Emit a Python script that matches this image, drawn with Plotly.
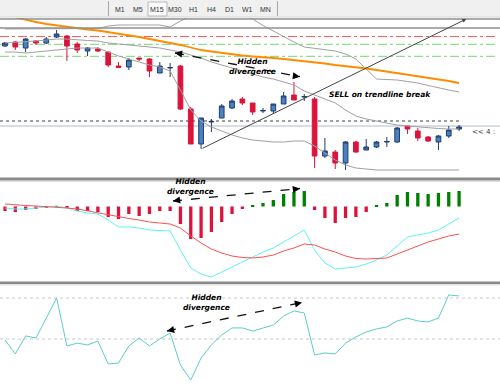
import plotly.graph_objects as go

W, H = 500, 384

# ---------------- data ----------------
bars = list(range(45))

open_ = [1.1132, 1.1136, 1.1130, 1.1137, 1.1135, 1.1141, 1.1142, 1.1134, 1.1127, 1.1129,
         1.1126, 1.1112, 1.1111, 1.1120, 1.1119, 1.1105, 1.1110, 1.1112, 1.1069, 1.1034,
         1.1056, 1.1060, 1.1070, 1.1079, 1.1075, 1.1067, 1.1067, 1.1074, 1.1083, 1.1081,
         1.1079, 1.1022, 1.1026, 1.1015, 1.1036, 1.1028, 1.1031, 1.1036, 1.1036, 1.1052,
         1.1047, 1.1041, 1.1036, 1.1042, 1.1049]
high = [1.1136, 1.1137, 1.1140, 1.1138, 1.1141, 1.1148, 1.1143, 1.1136, 1.1131, 1.1131,
        1.1126, 1.1116, 1.1120, 1.1120, 1.1120, 1.1116, 1.1115, 1.1113, 1.1071, 1.1060,
        1.1059, 1.1074, 1.1079, 1.1081, 1.1075, 1.1070, 1.1074, 1.1086, 1.1096, 1.1084,
        1.1081, 1.1040, 1.1028, 1.1037, 1.1037, 1.1039, 1.1037, 1.1041, 1.1051, 1.1052,
        1.1050, 1.1042, 1.1043, 1.1052, 1.1053]
low = [1.1131, 1.1128, 1.1126, 1.1133, 1.1134, 1.1140, 1.1117, 1.1125, 1.1122, 1.1126,
       1.1111, 1.1110, 1.1108, 1.1117, 1.1101, 1.1105, 1.1101, 1.1068, 1.1034, 1.1029,
       1.1046, 1.1060, 1.1069, 1.1073, 1.1063, 1.1065, 1.1064, 1.1074, 1.1078, 1.1077,
       1.1010, 1.1020, 1.1009, 1.1008, 1.1025, 1.1028, 1.1030, 1.1031, 1.1035, 1.1044,
       1.1037, 1.1036, 1.1028, 1.1040, 1.1047]
close = [1.1135, 1.1131, 1.1139, 1.1135, 1.1139, 1.1144, 1.1132, 1.1128, 1.1130, 1.1127,
         1.1113, 1.11105, 1.1118, 1.1119, 1.1107, 1.1112, 1.11105, 1.1069, 1.1034, 1.1060,
         1.10565, 1.1072, 1.1077, 1.1075, 1.1066, 1.10675, 1.1074, 1.1082, 1.1078, 1.10815,
         1.1022, 1.1027, 1.1015, 1.1036, 1.1026, 1.1031, 1.1036, 1.10365, 1.1050, 1.1049,
         1.1040, 1.1037, 1.1042, 1.1048, 1.1051]

ma_slow = [1.1163, 1.11605, 1.1158, 1.1156, 1.1154, 1.11525, 1.1151, 1.11495, 1.11485, 1.11475,
           1.1146, 1.11445, 1.1143, 1.1141, 1.1139, 1.1137, 1.11355, 1.1133, 1.11305, 1.1128,
           1.11265, 1.1125, 1.11235, 1.11225, 1.11215, 1.1121, 1.1120, 1.1119, 1.1118, 1.1117,
           1.1116, 1.11145, 1.1113, 1.1112, 1.1111, 1.11095, 1.1108, 1.11065, 1.1105, 1.11035,
           1.1102, 1.11005, 1.1099, 1.1097, 1.1095]

bb_upper = [1.1149, 1.1149, 1.1149, 1.1149, 1.1149, 1.1149, 1.1149, 1.1149, 1.1149, 1.11495,
            1.1152, 1.1153, 1.1153, 1.1153, 1.1153, 1.1153, 1.1151, 1.1157, 1.1162, 1.1166,
            1.1168, 1.1168, 1.1167, 1.1164, 1.1159, 1.11525, 1.1147, 1.1141, 1.1136, 1.1131,
            1.11295, 1.11285, 1.1127, 1.1124, 1.1119, 1.1109, 1.1099, 1.10985, 1.1098, 1.10965,
            1.1095, 1.10925, 1.1090, 1.1088, 1.1086]
bb_mid = [1.1135, 1.11355, 1.1136, 1.1137, 1.1138, 1.1139, 1.1139, 1.1138, 1.11375, 1.1137,
          1.1135, 1.1134, 1.1133, 1.1132, 1.1131, 1.1130, 1.1128, 1.1126, 1.1123, 1.1120,
          1.1116, 1.1113, 1.1110, 1.1107, 1.1104, 1.1101, 1.1099, 1.1096, 1.1093, 1.1087,
          1.1083, 1.1079, 1.1075, 1.1068, 1.1062, 1.1059, 1.1057, 1.1055, 1.1053, 1.1052,
          1.1051, 1.1050, 1.10495, 1.1049, 1.1049]
bb_lower = [1.1126, 1.1126, 1.1125, 1.1126, 1.1127, 1.1128, 1.1129, 1.1130, 1.1130, 1.1130,
            1.1126, 1.1122, 1.1119, 1.1116, 1.1113, 1.1111, 1.1107, 1.1088, 1.1068, 1.1057,
            1.1051, 1.1047, 1.1043, 1.1040, 1.1038, 1.1037, 1.1036, 1.1036, 1.1037, 1.1037,
            1.1032, 1.1025, 1.1018, 1.1013, 1.1010, 1.1009, 1.1008, 1.1008, 1.1008, 1.1008,
            1.1008, 1.1008, 1.1008, 1.1008, 1.1008]

macd_hist = [-0.00045, -0.00055, -0.00035, -0.00025, -0.00015, 0.00005, -0.00015, -0.00045, -0.00045, -0.00055,
             -0.00105, -0.00125, -0.00075, -0.00095, -0.00075, -0.00045, -0.00045, -0.00175, -0.00325, -0.00315,
             -0.00255, -0.00155, -0.00075, -0.00025, 0.00007, 0.00035, 0.00065, 0.00125, 0.00145, 0.00155,
             -0.00035, -0.00115, -0.00165, -0.00115, -0.00105, -0.00055, 0.00007, 0.00035, 0.00115, 0.00145,
             0.00135, 0.00125, 0.00135, 0.00145, 0.00155]
macd_main = [-0.00015, -0.00025, -0.00025, -0.00015, -0.00005, 0.00005, -0.00015, -0.00045, -0.00065, -0.00075,
             -0.00135, -0.00205, -0.00205, -0.00215, -0.00235, -0.0024, -0.00245, -0.00435, -0.00615, -0.00675,
             -0.00705, -0.00655, -0.00605, -0.00555, -0.00505, -0.00455, -0.00415, -0.00355, -0.00295, -0.00235,
             -0.00435, -0.00565, -0.00625, -0.00615, -0.00605, -0.00575, -0.00535, -0.00485, -0.00395, -0.00305,
             -0.00285, -0.00265, -0.00235, -0.00175, -0.00115]
macd_signal = [0.00025, 0.00015, 0.0001, 0.00005, 0.0, -0.00005, -0.00015, -0.00025, -0.00045, -0.00065,
               -0.00085, -0.00105, -0.0012, -0.00135, -0.00155, -0.00165, -0.00175, -0.00215, -0.00295, -0.00365,
               -0.00425, -0.00465, -0.00495, -0.0051, -0.00515, -0.00505, -0.00485, -0.00445, -0.00415, -0.00375,
               -0.00385, -0.00425, -0.00455, -0.00495, -0.0052, -0.00525, -0.0052, -0.00515, -0.00475, -0.00435,
               -0.00395, -0.00355, -0.00325, -0.00295, -0.00275]

rsi = [49.5, 42.7, 51.5, 50.5, 60.2, 70.0, 46.6, 48.0, 47.1, 49.0,
       37.8, 38.3, 46.6, 50.5, 46.6, 50.0, 52.9, 37.3, 30.0, 40.7,
       47.1, 52.0, 55.4, 55.4, 53.9, 55.4, 56.8, 61.2, 63.7, 62.7,
       42.2, 43.2, 42.7, 48.0, 51.0, 53.4, 54.9, 55.9, 58.8, 60.2,
       58.8, 58.3, 60.2, 71.5, 71.0]

level_red = [1.11415]
level_green = [1.11337, 1.11217]
level_dotted = 1.1057
level_solid = 1.1052
rsi_levels = [70, 50]

timeframes = ["M1", "M5", "M15", "M30", "H1", "H4", "D1", "W1", "MN"]

# annotation anchors (bar index, value)
trend_start = (19.0, 1.1029)
trend_end = (44.7, 1.1159)
div_main = [(16.47, 1.1125), (28.58, 1.11013)]
div_macd = [(16.28, 0.00055), (28.58, 0.0018)]
div_rsi = [(15.70, 53.9), (28.78, 67.8)]

# ---------------- figure ----------------
def py(y):
    return 1 - y / H

XR = [-0.4845, 47.965]
fig = go.Figure()

fig.add_trace(go.Candlestick(
    x=bars, open=open_, high=high, low=low, close=close,
    increasing=dict(line=dict(color="#1d3d70", width=1), fillcolor="#4a82bf"),
    decreasing=dict(line=dict(color="#dc143c", width=1), fillcolor="#dc143c"),
    whiskerwidth=0, xaxis="x", yaxis="y", hoverinfo="skip"))

for arr, col, w in [(bb_upper, "#a0a0a0", 1), (bb_mid, "#a0a0a0", 1),
                    (bb_lower, "#a0a0a0", 1), (ma_slow, "#ff8c00", 1.8)]:
    fig.add_trace(go.Scatter(x=bars, y=arr, mode="lines", line=dict(color=col, width=w),
                             xaxis="x", yaxis="y", hoverinfo="skip"))

# main arrow dashed line
fig.add_trace(go.Scatter(x=[p[0] for p in div_main], y=[p[1] for p in div_main], mode="lines",
                         line=dict(color="#111", width=1.3, dash="dash"), xaxis="x", yaxis="y"))

# MACD
fig.add_trace(go.Bar(x=bars, y=macd_hist, width=0.32,
                     marker=dict(color=["#008000" if v > 0 else "#dc143c" for v in macd_hist], line=dict(width=0)),
                     xaxis="x", yaxis="y2", hoverinfo="skip"))
fig.add_trace(go.Scatter(x=bars, y=macd_main, mode="lines", line=dict(color="#5cf3f8", width=1),
                         xaxis="x", yaxis="y2"))
fig.add_trace(go.Scatter(x=bars, y=macd_signal, mode="lines", line=dict(color="#ff5050", width=1),
                         xaxis="x", yaxis="y2"))
fig.add_trace(go.Scatter(x=[p[0] for p in div_macd], y=[p[1] for p in div_macd], mode="lines",
                         line=dict(color="#111", width=1.3, dash="dash"), xaxis="x", yaxis="y2"))

# RSI
fig.add_trace(go.Scatter(x=bars, y=rsi, mode="lines", line=dict(color="#5ccdc8", width=1),
                         xaxis="x", yaxis="y3"))
fig.add_trace(go.Scatter(x=[p[0] for p in div_rsi], y=[p[1] for p in div_rsi], mode="lines",
                         line=dict(color="#111", width=1.3, dash="dash"), xaxis="x", yaxis="y3"))

shapes = []
# toolbar
shapes.append(dict(type="rect", xref="paper", yref="paper", x0=0, x1=1, y0=py(17), y1=1,
                   fillcolor="#f0f0f0", line=dict(width=0), layer="above"))
shapes.append(dict(type="line", xref="paper", yref="paper", x0=0, x1=1, y0=py(17), y1=py(17),
                   line=dict(color="#d6d6d6", width=1), layer="above"))
for xs in [108.5, 277.5]:
    shapes.append(dict(type="line", xref="paper", yref="paper", x0=xs / W, x1=xs / W, y0=py(1), y1=py(16),
                       line=dict(color="#a8a8a8", width=1), layer="above"))
shapes.append(dict(type="rect", xref="paper", yref="paper", x0=148 / W, x1=167 / W, y0=py(16), y1=py(2),
                   fillcolor="#fafafa", line=dict(color="#b8b8b8", width=1), layer="above"))
# top strip lines
for yy in [19, 28]:
    shapes.append(dict(type="line", xref="paper", yref="paper", x0=0, x1=1, y0=py(yy), y1=py(yy),
                       line=dict(color="#8f8f8f", width=1.5)))
# price levels
for lv in level_red:
    shapes.append(dict(type="line", xref="paper", yref="y", x0=0, x1=497 / W, y0=lv, y1=lv,
                       line=dict(color="#ff5c5c", width=1, dash="dashdot"), layer="below"))
for lv in level_green:
    shapes.append(dict(type="line", xref="paper", yref="y", x0=0, x1=497 / W, y0=lv, y1=lv,
                       line=dict(color="#74d874", width=1, dash="dashdot"), layer="below"))
shapes.append(dict(type="line", xref="x", yref="y", x0=XR[0], x1=44.3, y0=level_dotted, y1=level_dotted,
                   line=dict(color="#808080", width=1.5, dash="dot"), layer="below"))
shapes.append(dict(type="line", xref="paper", yref="y", x0=0, x1=1, y0=level_solid, y1=level_solid,
                   line=dict(color="#b4bccb", width=1.2), layer="below"))
# rsi levels
for lv in rsi_levels:
    shapes.append(dict(type="line", xref="paper", yref="y3", x0=0, x1=1, y0=lv, y1=lv,
                       line=dict(color="#c8c8c8", width=1, dash="dot"), layer="below"))
# panel separators
for y0, y1 in [(177.5, 180.5), (281.5, 284)]:
    shapes.append(dict(type="rect", xref="paper", yref="paper", x0=0, x1=1, y0=py(y1), y1=py(y0),
                       fillcolor="#8a8a8a", line=dict(width=0), layer="above"))
    shapes.append(dict(type="line", xref="paper", yref="paper", x0=0, x1=1, y0=py(y1 + 0.8), y1=py(y1 + 0.8),
                       line=dict(color="#d4d4d4", width=1), layer="above"))

ann = []
for k, tf in enumerate(timeframes):
    xc = [120, 138, 157, 175, 193, 211, 229, 247, 265][k]
    ann.append(dict(xref="paper", yref="paper", x=xc / W, y=py(9), text=tf, showarrow=False,
                    font=dict(family="Liberation Sans", size=7, color="#333333"),
                    xanchor="center", yanchor="middle"))

bold = dict(family="DejaVu Sans", size=7.5, color="#000000")
# trendline
ann.append(dict(xref="x", yref="y", axref="x", ayref="y", x=trend_end[0], y=trend_end[1],
                ax=trend_start[0], ay=trend_start[1], text="", showarrow=True,
                arrowhead=2, arrowsize=0.8, arrowwidth=1, arrowcolor="#444444"))
# arrowheads for dashed arrows
def heads(pts, yref, axy):
    (xa, ya), (xb, yb) = pts
    (axl, ayl), (axr, ayr) = axy
    ann.append(dict(xref="x", yref=yref, x=xa, y=ya, ax=axl, ay=ayl, text="", showarrow=True,
                    arrowhead=2, arrowsize=1.1, arrowwidth=1.3, arrowcolor="#000"))
    ann.append(dict(xref="x", yref=yref, x=xb, y=yb, ax=axr, ay=ayr, text="", showarrow=True,
                    arrowhead=2, arrowsize=1.1, arrowwidth=1.3, arrowcolor="#000"))

heads(div_main, "y", [(7, 1), (-7, -1)])
heads(div_macd, "y2", [(7, -1), (-7, 1)])
heads(div_rsi, "y3", [(7, -1.5), (-7, 1.5)])

txt = "<b><i>Hidden<br>divergence</i></b>"
ann.append(dict(xref="x", yref="y", x=24.03, y=1.1112, text=txt, showarrow=False, font=bold,
                xanchor="center", yanchor="middle"))
ann.append(dict(xref="x", yref="y2", x=18.02, y=0.0020, text=txt, showarrow=False, font=bold,
                xanchor="center", yanchor="middle"))
ann.append(dict(xref="x", yref="y3", x=19.57, y=67.8, text=txt, showarrow=False, font=bold,
                xanchor="center", yanchor="middle"))
ann.append(dict(xref="x", yref="y", x=31.2, y=1.10835, text="<b><i>SELL on trendline break</i></b>",
                showarrow=False, font=bold, xanchor="left", yanchor="middle"))
ann.append(dict(xref="paper", yref="y", x=497 / W, y=1.1046, text="&lt;&lt; 4 :", showarrow=False,
                font=dict(family="DejaVu Sans", size=7, color="#333333"), xanchor="right", yanchor="middle"))

ax_common = dict(showgrid=False, zeroline=False, showticklabels=False, ticks="", showline=False, fixedrange=True)
fig.update_layout(
    width=W, height=H, margin=dict(l=0, r=0, t=0, b=0),
    paper_bgcolor="white", plot_bgcolor="white", showlegend=False,
    boxgap=0.35,
    xaxis=dict(range=XR, domain=[0, 1], anchor="y3", rangeslider=dict(visible=False), **ax_common),
    yaxis=dict(range=[1.1000, 1.1160], domain=[py(178), py(18)], anchor="x", **ax_common),
    yaxis2=dict(range=[-0.00755, 0.00265], domain=[py(282), py(180)], anchor="x", **ax_common),
    yaxis3=dict(range=[28.05, 76.83], domain=[0, py(284)], anchor="x", **ax_common),
    shapes=shapes, annotations=ann,
)

fig.write_html("out.html", config={"displayModeBar": False},
               post_script="document.body.style.margin='0';document.body.style.overflow='hidden';")
